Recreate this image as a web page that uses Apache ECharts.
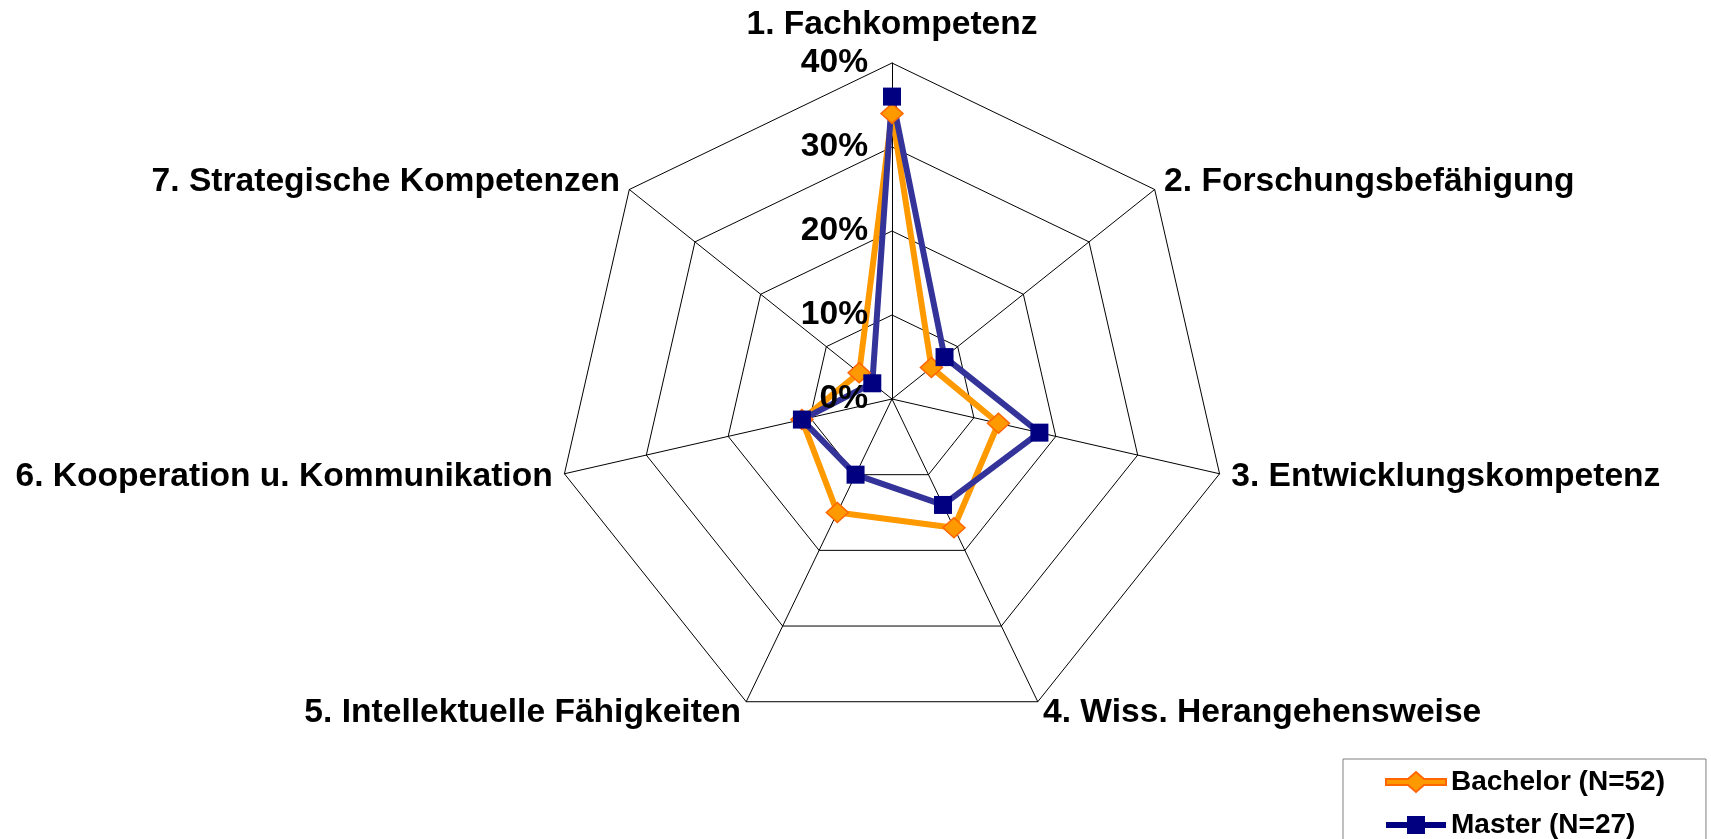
<!DOCTYPE html>
<html>
<head>
<meta charset="utf-8">
<script src="https://cdn.jsdelivr.net/npm/echarts@6/dist/echarts.min.js"></script>
<style>
  html, body { margin: 0; padding: 0; background: #fff; }
  #chart { width: 1711px; height: 839px; }
</style>
</head>
<body>
<div id="chart"></div>
<script>
// Kategorien (im Uhrzeigersinn, beginnend oben)
const categories = [
  '1. Fachkompetenz',
  '2. Forschungsbefähigung',
  '3. Entwicklungskompetenz',
  '4. Wiss. Herangehensweise',
  '5. Intellektuelle Fähigkeiten',
  '6. Kooperation u. Kommunikation',
  '7. Strategische Kompetenzen'
];
// Anteile in %
const bachelor = [34, 6, 13, 17, 15, 11, 5];
const master = [36, 8, 18, 14, 10, 11, 3];
const tickMax = 40;

// echarts zeichnet gegen den Uhrzeigersinn -> Reihenfolge umdrehen (1 bleibt oben)
const order = [0, 6, 5, 4, 3, 2, 1];
const pick = arr => order.map(i => arr[i]);

const font = "'Liberation Sans', Arial, sans-serif";
const txt = { fontFamily: font, fontSize: 33.6, fontWeight: 'bold', color: '#000' };

const radarBase = {
  center: [892, 399],
  radius: 336,
  startAngle: 90,
  shape: 'polygon',
  splitNumber: 4,
  nameGap: 12,
  splitArea: { show: false },
  axisTick: { show: false }
};

var myChart = echarts.init(document.getElementById('chart'));
var option = {
  backgroundColor: '#fff',
  animation: false,
  legend: {
    orient: 'vertical',
    left: 1343,
    top: 759,
    height: 120,
    padding: [9, 41, 9, 42],
    itemWidth: 60,
    itemHeight: 20,
    itemGap: 15,
    borderColor: '#808080',
    borderWidth: 1,
    textStyle: { fontFamily: font, fontSize: 28, fontWeight: 'bold', color: '#000', lineHeight: 28 },
    data: [
      { name: 'Bachelor (N=52)', icon: 'path://M0,7 L22,7 L30,0 L38,7 L60,7 L60,13 L38,13 L30,20 L22,13 L0,13 Z' },
      { name: 'Master (N=27)', icon: 'path://M0,7 L21,7 L21,1 L39,1 L39,7 L60,7 L60,13 L39,13 L39,19 L21,19 L21,13 L0,13 Z' }
    ]
  },
  radar: [
    // Netz + Achsennamen
    Object.assign({}, radarBase, {
      axisName: Object.assign({
        formatter: function (name) {
          return name === categories[0] ? '{top|' + name + '}' : name;
        },
        rich: { top: Object.assign({ padding: [0, 0, 9, 0] }, txt) }
      }, txt),
      axisLine: { lineStyle: { color: '#000', width: 1 } },
      splitLine: { lineStyle: { color: '#000', width: 1 } },
      axisLabel: { show: false },
      indicator: pick(categories).map(name => ({ name: name, min: 0, max: tickMax }))
    }),
    // nur Prozent-Beschriftung der ersten Achse, über den Linien
    Object.assign({}, radarBase, {
      z: 10,
      axisName: { show: false },
      axisLine: { show: false },
      splitLine: { show: false },
      axisLabel: Object.assign({ show: true, formatter: '{value}%', margin: 24 }, txt),
      indicator: pick(categories).map((name, i) => {
        const ind = { name: name, min: 0, max: tickMax };
        if (i > 0) ind.axisLabel = { show: false };
        return ind;
      })
    })
  ],
  series: [
    {
      type: 'radar',
      radarIndex: 0,
      data: [
        {
          name: 'Bachelor (N=52)',
          value: pick(bachelor),
          symbol: 'diamond',
          symbolSize: [22, 20],
          lineStyle: { color: '#FF9900', width: 6 },
          itemStyle: { color: '#FF9900', borderColor: '#FF6600', borderWidth: 1.5 }
        },
        {
          name: 'Master (N=27)',
          value: pick(master),
          symbol: 'rect',
          symbolSize: 18,
          lineStyle: { color: '#333399', width: 6 },
          itemStyle: { color: '#000080', borderWidth: 0 }
        }
      ]
    }
  ]
};
option && myChart.setOption(option);
</script>
</body>
</html>
